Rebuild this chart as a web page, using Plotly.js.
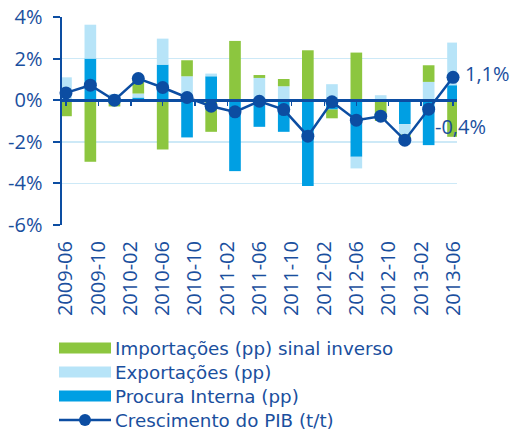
<!DOCTYPE html>
<html>
<head>
<meta charset="utf-8">
<script src="https://cdn.plot.ly/plotly-3.0.1.min.js"></script>
<style>html,body{margin:0;padding:0;background:#fff;}#chart{width:512px;height:434px;}</style>
</head>
<body>
<div id="chart"></div>
<script>
// ---- data ----
const periods = ['2009-06-01','2009-09-01','2009-12-01','2010-03-01','2010-06-01','2010-09-01','2010-12-01','2011-03-01','2011-06-01','2011-09-01','2011-12-01','2012-03-01','2012-06-01','2012-09-01','2012-12-01','2013-03-01','2013-06-01'];
const procuraInterna = [0.05, 2.0, 0.2, 0.13, 1.71, -1.79, 1.15, -3.41, -1.28, -1.52, -4.13, -0.45, -2.72, 0.0, -1.15, -2.16, 0.72];
const exportacoes = [1.05, 1.63, 0.1, 0.19, 1.25, 1.15, 0.13, 0.0, 1.07, 0.67, 0.05, 0.77, -0.56, 0.24, -0.5, 0.88, 2.05];
const importacoes = [-0.77, -2.96, -0.3, 0.7, -2.37, 0.77, -1.52, 2.85, 0.14, 0.35, 2.35, -0.42, 2.29, -1.0, -0.3, 0.8, -1.76];
const pib = [0.35, 0.72, 0.0, 1.04, 0.61, 0.13, -0.29, -0.56, -0.05, -0.45, -1.73, -0.08, -0.96, -0.77, -1.92, -0.43, 1.1];
const seriesNames = ['Importações (pp) sinal inverso', 'Exportações (pp)', 'Procura Interna (pp)', 'Crescimento do PIB (t/t)'];
const yTicks = [-6, -4, -2, 0, 2, 4];

// ---- styles ----
const DARK = '#0c4da2';
const TEXT = '#1a4f9e';
const GREEN = '#8cc63f';
const LIGHT = '#b7e4f8';
const BLUE = '#009fe3';
const FONT = 'Open Sans, Noto Sans, sans-serif';
const LEGFONT = 'DejaVu Sans, sans-serif';
const DAY = 86400000;

const L = 62, R = 457, T = 17, B = 225;
const px2x = p => (p - L) / (R - L);
const py2y = p => (B - p) / (B - T);

const barCommon = {type: 'bar', x: periods, width: 44 * DAY, showlegend: false, hoverinfo: 'y'};
const traces = [
  Object.assign({}, barCommon, {name: seriesNames[2], y: procuraInterna, marker: {color: BLUE, line: {width: 0}}}),
  Object.assign({}, barCommon, {name: seriesNames[1], y: exportacoes, marker: {color: LIGHT, line: {width: 0}}}),
  Object.assign({}, barCommon, {name: seriesNames[0], y: importacoes, marker: {color: GREEN, line: {width: 0}}}),
  {type: 'scatter', mode: 'lines+markers', name: seriesNames[3], x: periods, y: pib, xaxis: 'x2', yaxis: 'y',
   line: {color: DARK, width: 2.5}, marker: {color: DARK, size: 13}, showlegend: false, cliponaxis: false}
];

const fmt = v => (v < 0 ? '-' : '') + Math.abs(v).toFixed(1).replace('.', ',') + '%';
const n = pib.length;

const xRange = ['2009-05-17', '2013-06-16'];
const shapes = [];
const annotations = [
  {x: periods[n - 1], y: pib[n - 1], xref: 'x', yref: 'y', text: fmt(pib[n - 1]), showarrow: false,
   xanchor: 'left', yanchor: 'middle', xshift: 10, yshift: 4, font: {family: FONT, size: 20, color: TEXT}},
  {x: periods[n - 1], y: pib[n - 2], xref: 'x', yref: 'y', text: fmt(pib[n - 2]), showarrow: false,
   xanchor: 'left', yanchor: 'middle', xshift: -20, yshift: -17, font: {family: FONT, size: 20, color: TEXT}}
];

// custom legend (wide swatches)
const legendRows = [348, 372, 396, 420];
const swatchColors = [GREEN, LIGHT, BLUE];
for (let i = 0; i < 4; i++) {
  const cy = legendRows[i];
  if (i < 3) {
    shapes.push({type: 'rect', xref: 'paper', yref: 'paper', x0: px2x(59), x1: px2x(111), y0: py2y(cy + 5.5), y1: py2y(cy - 5.5),
      fillcolor: swatchColors[i], line: {width: 0}});
  } else {
    shapes.push({type: 'line', xref: 'paper', yref: 'paper', x0: px2x(59), x1: px2x(111), y0: py2y(cy), y1: py2y(cy),
      line: {color: DARK, width: 2.5}});
    shapes.push({type: 'circle', xref: 'paper', yref: 'paper', x0: px2x(79), x1: px2x(91), y0: py2y(cy + 6), y1: py2y(cy - 6),
      fillcolor: DARK, line: {width: 0}});
  }
  annotations.push({xref: 'paper', yref: 'paper', x: px2x(114), y: py2y(cy), text: seriesNames[i], showarrow: false,
    xanchor: 'left', yanchor: 'middle', borderpad: 0, font: {family: LEGFONT, size: 18.3, color: TEXT}});
}

const layout = {
  width: 512, height: 434,
  margin: {l: L, r: 512 - R, t: T, b: 434 - B, pad: 0},
  paper_bgcolor: '#fff', plot_bgcolor: '#fff',
  barmode: 'relative', showlegend: false,
  font: {family: FONT, color: TEXT, size: 20},
  xaxis: {type: 'date', range: xRange, tick0: '2009-06-01', dtick: 'M4', tickformat: '%Y-%m', tickangle: -90,
    ticks: '', showgrid: false, showline: false, zeroline: false, ticklabelstandoff: 11,
    tickfont: {family: FONT, size: 20, color: TEXT}},
  xaxis2: {type: 'date', range: xRange, tick0: '2009-06-01', dtick: 'M4', overlaying: 'x', anchor: 'free', position: 0.6,
    side: 'bottom', showticklabels: false, ticks: 'outside', ticklen: 4, tickwidth: 1.5, tickcolor: DARK,
    showline: true, linecolor: DARK, linewidth: 2.5, showgrid: false, zeroline: false},
  yaxis: {range: [-6, 4], tickvals: yTicks, ticktext: yTicks.map(v => v + '%'), showgrid: true, gridcolor: '#cde9f7', gridwidth: 1.5,
    zeroline: false, showline: true, linecolor: DARK, linewidth: 2.5, ticks: 'outside', ticklen: 7, tickwidth: 2, tickcolor: DARK,
    ticklabelstandoff: 6, tickfont: {family: FONT, size: 20, color: TEXT}},
  shapes: shapes,
  annotations: annotations
};

Plotly.newPlot('chart', traces, layout, {displayModeBar: false, staticPlot: true});
</script>
</body>
</html>
